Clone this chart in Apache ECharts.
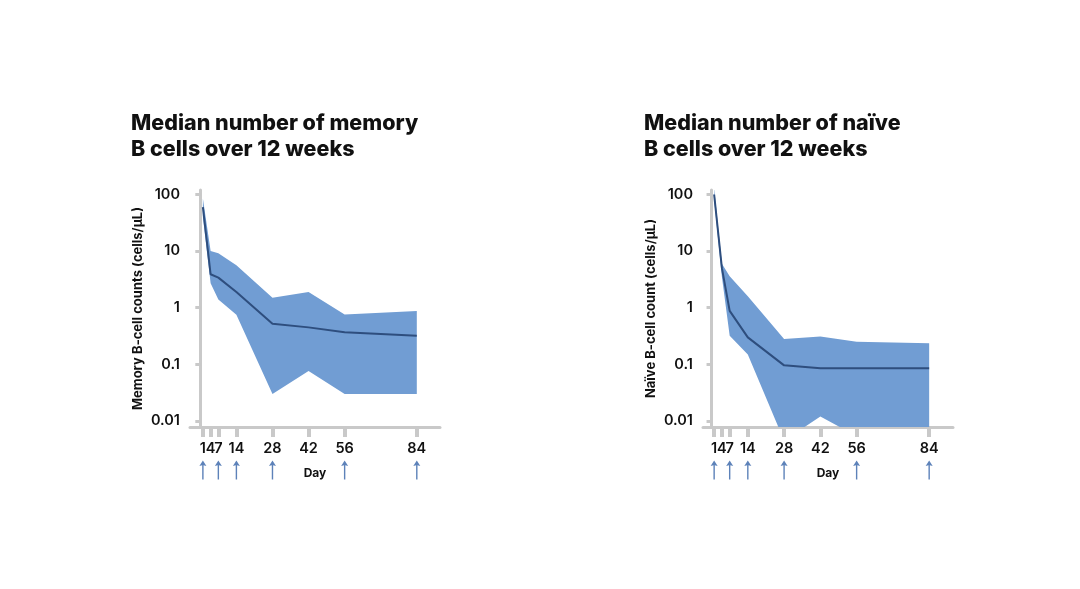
<!DOCTYPE html>
<html>
<head>
<meta charset="utf-8">
<script src="https://cdn.jsdelivr.net/npm/echarts@6.0.0/dist/echarts.min.js"></script>
<style>
html, body { margin: 0; background: #fff; }
#main { width: 1080px; height: 589px; }
</style>
</head>
<body>
<div id="main"></div>
<script>
// days with measurements, tick labels and dosing days (arrows)
const days = [1, 4, 7, 14, 28, 42, 56, 84];
const dayTicks = [1, 4, 7, 14, 28, 42, 56, 84];
const doseDays = [1, 7, 14, 28, 56, 84];
const yTicks = [0.01, 0.1, 1, 10, 100];

// memory B cells (cells/uL)
const memoryMedian = [60, 3.9, 3.4, 1.9, 0.52, 0.45, 0.37, 0.32];
const memoryUpper = [85, 10, 9.2, 5.6, 1.5, 1.9, 0.76, 0.88];
const memoryLower = [40, 2.7, 1.4, 0.75, 0.03, 0.076, 0.03, 0.03];

// naive B cells (cells/uL)
const naiveMedian = [100, 5, 0.88, 0.3, 0.096, 0.085, 0.085, 0.085];
const naiveUpper = [130, 6, 3.6, 1.6, 0.28, 0.31, 0.25, 0.235];
const naiveLower = [80, 3.5, 0.32, 0.15, 0.0045, 0.012, 0.0054, 0.005];

const BAND = '#719dd3';
const LINE = '#2e4e7e';
const ARROW = '#3563a8';
const AXIS = '#c9c9c9';
const FONT = 'Inter, "Noto Sans", sans-serif';

const chart = echarts.init(document.getElementById('main'));

function fmtLog(v) {
    return String(Number(v.toPrecision(2)));
}

function mainX(idx, min, max) {
    return {
        type: 'value', gridIndex: idx, min: min, max: max,
        name: 'Day', nameLocation: 'middle', nameGap: 40,
        nameTextStyle: {fontFamily: FONT, fontWeight: 'bold', fontSize: 12, color: '#111'},
        axisLine: {show: true, lineStyle: {color: AXIS, width: 3}},
        axisTick: {show: true, customValues: dayTicks, length: 10, lineStyle: {color: AXIS, width: 4}},
        axisLabel: {customValues: dayTicks, margin: 14, fontFamily: FONT, fontSize: 14.5, fontWeight: 600, color: '#111'},
        splitLine: {show: false}
    };
}

function mainY(idx, name) {
    return {
        type: 'log', gridIndex: idx, min: 0.00783, max: 120,
        name: name, nameLocation: 'middle', nameGap: 45, nameRotate: 90,
        nameTextStyle: {fontFamily: FONT, fontWeight: 'bold', fontSize: 13, color: '#111'},
        axisLine: {show: true, lineStyle: {color: AXIS, width: 3}},
        axisTick: {show: true, customValues: yTicks, length: 5, lineStyle: {color: AXIS, width: 3}},
        axisLabel: {customValues: yTicks, margin: 10, formatter: fmtLog, fontFamily: FONT, fontSize: 14.5, fontWeight: 600, color: '#111'},
        splitLine: {show: false}
    };
}

function arrowX(idx, min, max) {
    return {type: 'value', gridIndex: idx, min: min, max: max, show: false};
}

function arrowY(idx) {
    return {type: 'value', gridIndex: idx, min: 0, max: 1, show: false};
}

// shaded range between lower and upper, drawn as one polygon
function bandSeries(idx, lower, upper, median) {
    return [
        {
            type: 'custom', xAxisIndex: idx, yAxisIndex: idx, clip: true, silent: true,
            data: days.map((d, i) => [d, lower[i], upper[i]]),
            encode: {x: 0, y: [1, 2]},
            renderItem: function (params, api) {
                if (params.dataIndex !== 0) return;
                const pts = [];
                for (let i = 0; i < days.length; i++) pts.push(api.coord([days[i], upper[i]]));
                for (let i = days.length - 1; i >= 0; i--) pts.push(api.coord([days[i], lower[i]]));
                return {type: 'polygon', shape: {points: pts}, style: {fill: BAND}};
            },
            z: 1
        },
        {
            type: 'line', xAxisIndex: idx, yAxisIndex: idx,
            data: days.map((d, i) => [d, median[i]]),
            symbol: 'none', lineStyle: {color: LINE, width: 2}, silent: true, z: 3
        }
    ];
}

function arrowSeries(idx) {
    return {
        type: 'scatter', xAxisIndex: idx, yAxisIndex: idx,
        data: doseDays.map(d => [d, 0.5]),
        symbol: 'path://M4,0 L8,7 L4.8,6 L4.8,24 L3.2,24 L3.2,6 L0,7 Z',
        symbolSize: [7, 19], symbolKeepAspect: false,
        itemStyle: {color: ARROW}, silent: true
    };
}

chart.setOption({
    animation: false,
    title: [
        {
            text: 'Median number of memory\nB cells over 12 weeks', left: 126, top: 106,
            textStyle: {fontFamily: FONT, fontWeight: 800, fontSize: 21.5, lineHeight: 26, color: '#111'}
        },
        {
            text: 'Median number of naïve\nB cells over 12 weeks', left: 639, top: 106,
            textStyle: {fontFamily: FONT, fontWeight: 800, fontSize: 21.5, lineHeight: 26, color: '#111'}
        }
    ],
    grid: [
        {left: 190, top: 190, width: 250, height: 237, containLabel: false},
        {left: 703, top: 190, width: 250, height: 237, containLabel: false},
        {left: 190, top: 459, width: 250, height: 22, containLabel: false},
        {left: 703, top: 459, width: 250, height: 22, containLabel: false}
    ],
    xAxis: [mainX(0, -4, 93), mainX(1, -3.3, 93.2), arrowX(2, -4, 93), arrowX(3, -3.3, 93.2)],
    yAxis: [
        mainY(0, 'Memory B-cell counts (cells/μL)'),
        mainY(1, 'Naïve B-cell count (cells/μL)'),
        arrowY(2), arrowY(3)
    ],
    series: [
        ...bandSeries(0, memoryLower, memoryUpper, memoryMedian),
        ...bandSeries(1, naiveLower, naiveUpper, naiveMedian),
        arrowSeries(2),
        arrowSeries(3)
    ]
});
</script>
</body>
</html>
